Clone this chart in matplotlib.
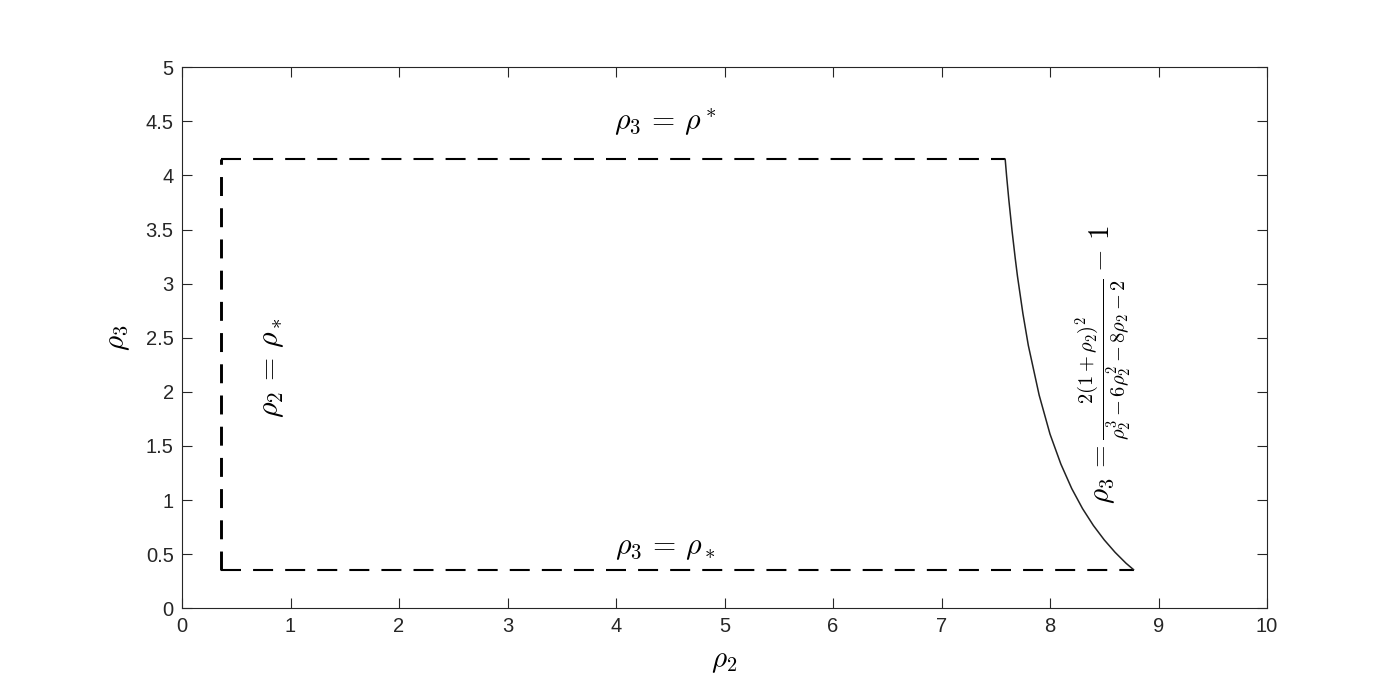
import matplotlib
matplotlib.use("Agg")
import matplotlib.pyplot as plt

# Boundary values
rho_lower = 0.357   # rho_*
rho_upper = 4.15    # rho^*
rho2_corner = 7.587
rho2_end = 8.77

# Curved boundary (rho2, rho3)
curve_rho2 = [7.587, 7.60, 7.62, 7.65, 7.68, 7.70, 7.75, 7.80, 7.90, 8.00,
              8.10, 8.20, 8.30, 8.40, 8.50, 8.60, 8.70, 8.77]
curve_rho3 = [4.15, 3.995, 3.78, 3.49, 3.23, 3.07, 2.725, 2.43, 1.97, 1.61,
              1.333, 1.107, 0.921, 0.765, 0.632, 0.517, 0.417, 0.357]

xticks = [0, 1, 2, 3, 4, 5, 6, 7, 8, 9, 10]
xticklabels = ["0", "1", "2", "3", "4", "5", "6", "7", "8", "9", "10"]
yticks = [0, 0.5, 1, 1.5, 2, 2.5, 3, 3.5, 4, 4.5, 5]
yticklabels = ["0", "0.5", "1", "1.5", "2", "2.5", "3", "3.5", "4", "4.5", "5"]

plt.rcParams["mathtext.fontset"] = "cm"
plt.rcParams["font.family"] = ["Liberation Sans", "DejaVu Sans"]

fig = plt.figure(figsize=(14, 7), dpi=100)
ax = fig.add_axes([0.13, 0.131, 0.775, 0.773])

dash = (0, (9.6, 5.8))
ax.plot([rho_lower, rho_lower], [rho_lower, rho_upper], color="black", lw=2.1,
        linestyle=(0, (6.5, 4.2)))
ax.plot([rho_lower, rho2_corner], [rho_upper, rho_upper], color="black", lw=1.5, linestyle=dash)
ax.plot([rho_lower, rho2_end], [rho_lower, rho_lower], color="black", lw=1.5, linestyle=dash)
ax.plot(curve_rho2, curve_rho3, color="#222222", lw=1.1)

ax.set_xlim(0, 10)
ax.set_ylim(0, 5)
ax.set_xticks(xticks)
ax.set_xticklabels(xticklabels)
ax.set_yticks(yticks)
ax.set_yticklabels(yticklabels)

c = (0.15, 0.15, 0.15)
for s in ax.spines.values():
    s.set_color(c)
    s.set_linewidth(0.8)
ax.tick_params(direction="in", length=7, width=0.8, colors=c, labelsize=14.5,
               top=True, right=True, pad=6)
for lab in ax.get_xticklabels() + ax.get_yticklabels():
    lab.set_color(c)

ax.set_xlabel(r"$\rho_2$", fontsize=21, labelpad=8)
ax.set_ylabel(r"$\rho_3$", fontsize=21, labelpad=10)

ax.text(4.45, 4.49, r"$\rho_3\,=\,\rho^*$", fontsize=21.5, ha="center", va="center")
ax.text(4.45, 0.56, r"$\rho_3\,=\,\rho_*$", fontsize=21.5, ha="center", va="center")
ax.text(0.83, 2.22, r"$\rho_2\,=\,\rho_*$", fontsize=21.5, ha="center", va="center", rotation=90)
ax.text(8.49, 2.25, r"$\rho_3\,=\frac{2(1+\rho_2)^2}{\rho_2^3-6\rho_2^2-8\rho_2-2}-\,1$",
        fontsize=21, ha="center", va="center", rotation=90)

fig.savefig("out.png", dpi=100)
